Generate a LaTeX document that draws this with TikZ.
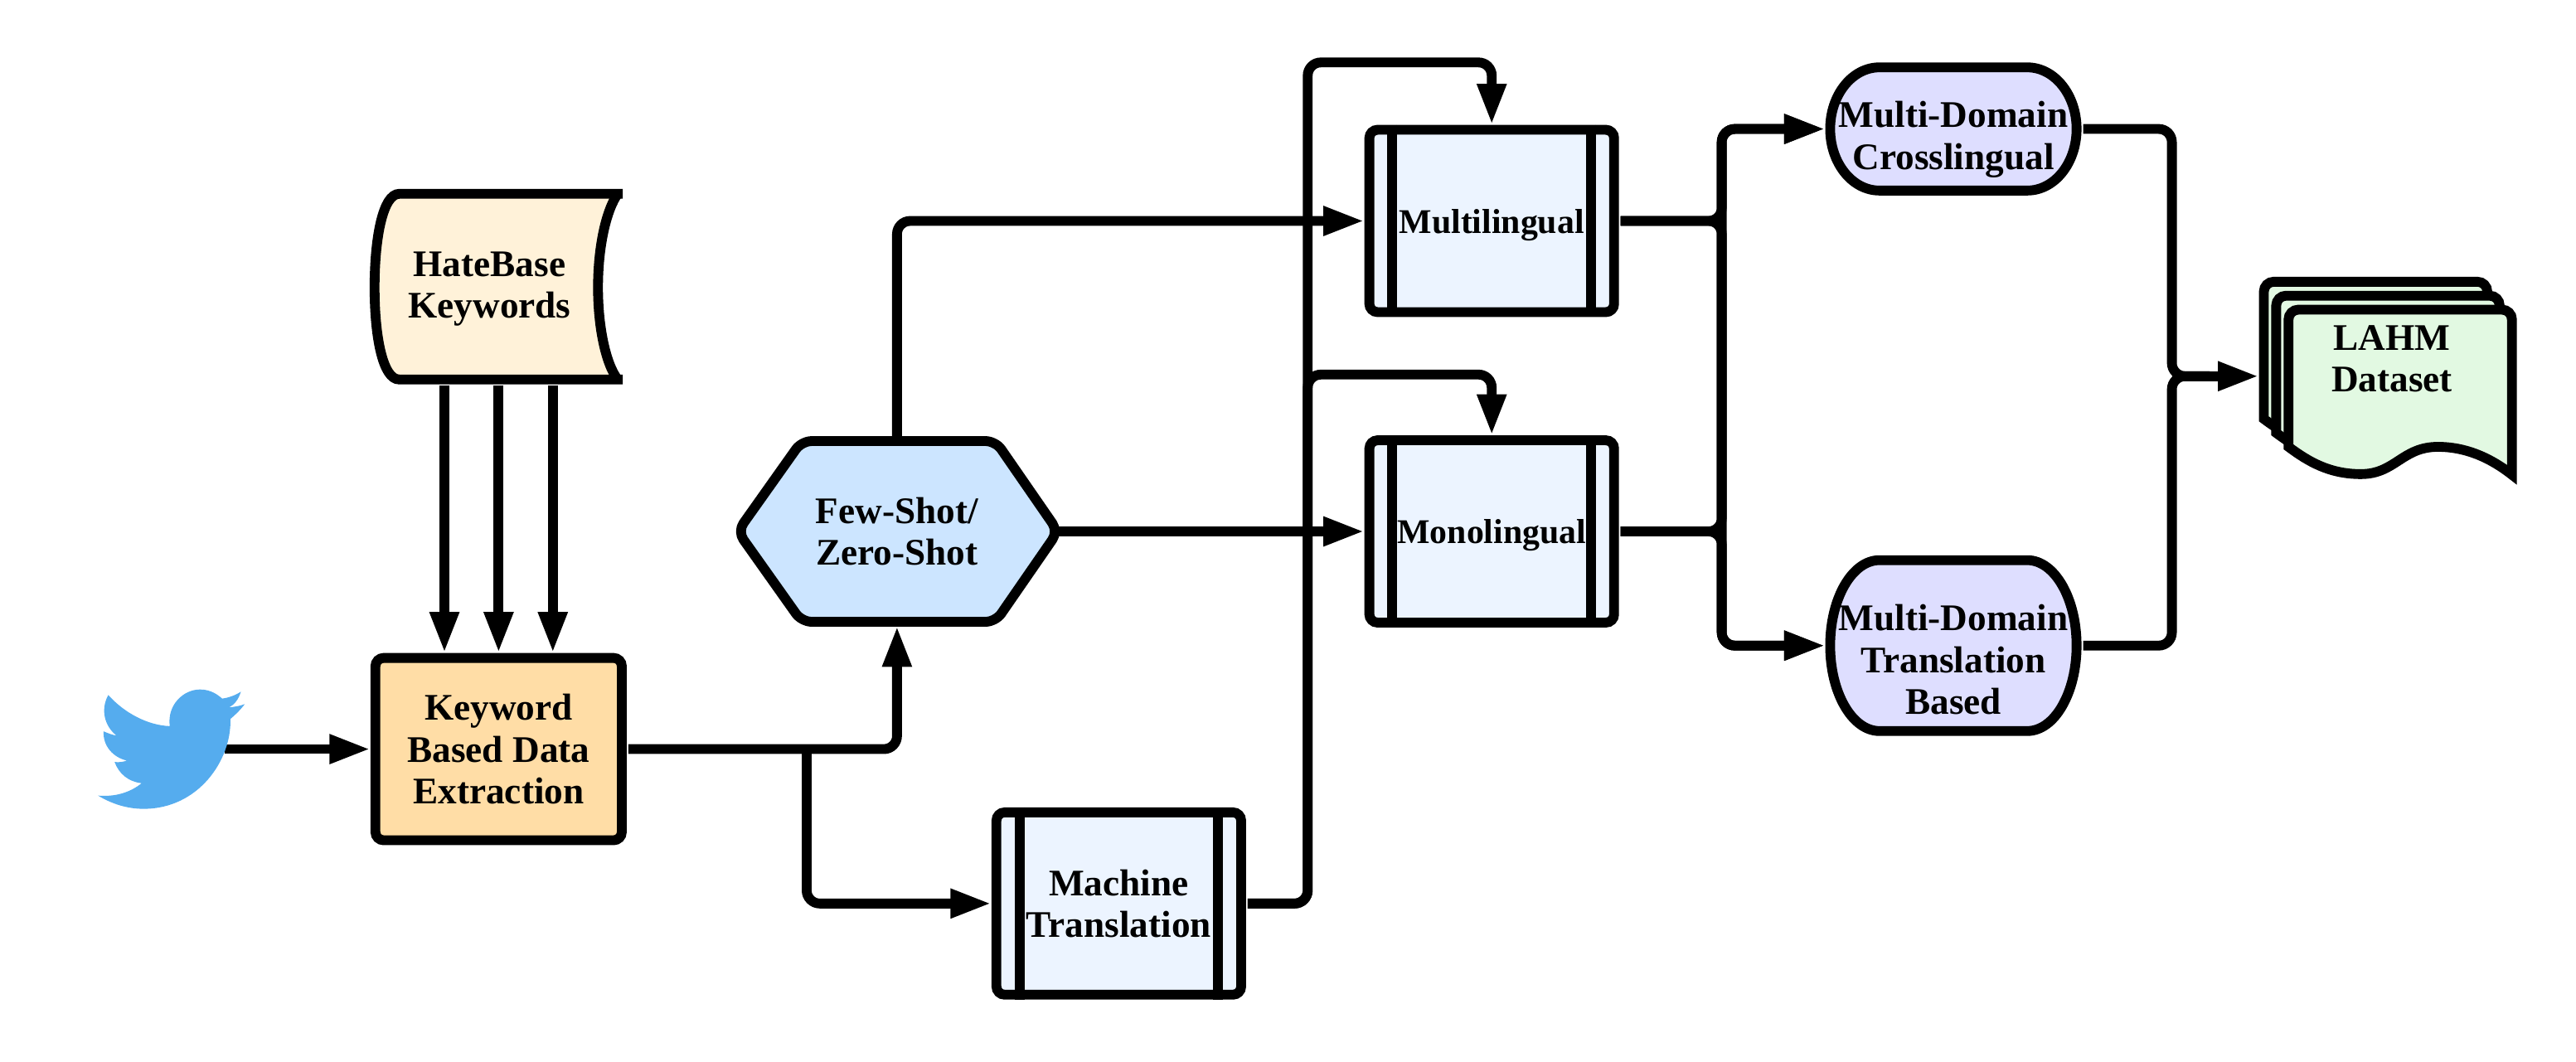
\documentclass[tikz,border=0pt]{standalone}
\usepackage{fontspec}
\setmainfont{Liberation Serif}
\usetikzlibrary{arrows.meta}
\definecolor{tapefill}{HTML}{FFF2D9}
\definecolor{kwfill}{HTML}{FFDDA6}
\definecolor{hexfill}{HTML}{CCE5FF}
\definecolor{procfill}{HTML}{ECF4FF}
\definecolor{termfill}{HTML}{DEDEFF}
\definecolor{docfill}{HTML}{E2F9E2}
\definecolor{birdblue}{HTML}{55ACEE}
\tikzset{
  lw/.style={line width=3.4pt},
  lab/.style={font=\fontsize{13}{14.5}\selectfont\bfseries,align=center,inner sep=0pt},
  labsmall/.style={font=\fontsize{12}{14.5}\selectfont\bfseries,align=center,inner sep=0pt},
  conn/.style={lw,rounded corners=.16cm,-{Triangle[length=.5cm,width=.33cm]}},
  wire/.style={lw,rounded corners=.16cm},
  gap/.style={shorten <=.02cm},
  ghost/.style={lab,outer sep=0pt},
  kwbox/.style={lab,draw,lw,fill=kwfill,rounded corners=.1cm,minimum width=3.0cm,minimum height=2.22cm},
  procbox/.style={labsmall,draw,lw,fill=procfill,rounded corners=.1cm,minimum width=2.98cm,minimum height=2.22cm},
  outline/.style={draw,lw,line join=round},
}
\begin{document}
\begin{tikzpicture}[x=0.02cm,y=-0.02cm]
\useasboundingbox (0,0) rectangle (1568,646.46);

% tape
\fill[tapefill] (379,118) -- (243,118) .. controls (233,118) and (228,145) .. (228,175) .. controls (228,205) and (233,231) .. (243,231) -- (376,231) .. controls (369,222) and (364,200) .. (364,175) .. controls (364,150) and (369,128) .. (376,118) -- cycle;
\draw[lw] (379,118) -- (243,118) .. controls (233,118) and (228,145) .. (228,175) .. controls (228,205) and (233,231) .. (243,231) -- (379,231);
\draw[lw] (376,231) .. controls (369,222) and (364,200) .. (364,175) .. controls (364,150) and (369,128) .. (376,118);
\node[ghost,minimum width=2.94cm,minimum height=2.34cm] (hb) at (298,176) {HateBase\\Keywords};

% keyword box
\node[kwbox] (kw) at (303.5,456) {Keyword\\Based Data\\Extraction};

% hexagon
\draw[outline,fill=hexfill,rounded corners=.12cm] (546,268.5) -- (606,268.5) -- (644,323.5) -- (606,378.5) -- (488,378.5) -- (449,323.5) -- (488,268.5) -- cycle;
\node[ghost,minimum width=3.84cm,minimum height=2.3cm] (hex) at (546,323.5) {Few-Shot/\\Zero-Shot};

% processes
\node[procbox,font=\fontsize{13}{14.5}\selectfont\bfseries] (mt) at (681,550) {Machine\\Translation};
\node[procbox,text depth=0pt] (mult) at (908,134.5) {Multilingual};
\node[procbox,text depth=0pt] (mono) at (908,323.5) {Monolingual};
\foreach \n in {mt,mult,mono}{
  \draw[lw] ([xshift=.34cm]\n.north west) -- ([xshift=.34cm]\n.south west);
  \draw[lw] ([xshift=-.34cm]\n.north east) -- ([xshift=-.34cm]\n.south east);
}

% terminators
\draw[outline,fill=termfill] (1144,41) -- (1234,41) .. controls (1250.6,41) and (1264,57.8) .. (1264,78.5) .. controls (1264,99.2) and (1250.6,116) .. (1234,116) -- (1144,116) .. controls (1127.4,116) and (1114,99.2) .. (1114,78.5) .. controls (1114,57.8) and (1127.4,41) .. (1144,41) -- cycle;
\node[ghost,minimum width=3.12cm] (cross) at (1189,85) {Multi-Domain\\Crosslingual};
\draw[outline,fill=termfill] (1144,341) -- (1234,341) .. controls (1250.6,341) and (1264,364.3) .. (1264,393) .. controls (1264,421.7) and (1250.6,445) .. (1234,445) -- (1144,445) .. controls (1127.4,445) and (1114,421.7) .. (1114,393) .. controls (1114,364.3) and (1127.4,341) .. (1144,341) -- cycle;
\node[ghost,minimum width=3.12cm] (trans) at (1189,401.5) {Multi-Domain\\Translation\\Based};

% document stack
\foreach \dx/\dy in {-15/-17,-7.5/-8.5,0/0}{
  \begin{scope}[shift={(\dx,\dy)}]
    \draw[lw,fill=docfill,miter limit=10] (1393,272) [rounded corners=.12cm] -- (1393,188.5) -- (1529,188.5) [sharp corners] -- (1529,289) .. controls (1515,278) and (1500,272) .. (1484,272) .. controls (1462,272) and (1458,288.6) .. (1437,288.6) .. controls (1418,288.6) and (1405,281) .. (1393,272) -- cycle;
  \end{scope}
}
\node[lab] (ds) at (1456,218.5) {LAHM\\Dataset};

% free points
\coordinate (bird) at (137,456);
\coordinate (split) at (491,456);
\coordinate (trunkA) at (796,38);
\coordinate (trunkB) at (796,228);
\coordinate (busA) at (1048,134.5);
\coordinate (busB) at (1048,323.5);
\coordinate (busOut) at (1322,229);
\coordinate (dsmid) at (1345,229);
\coordinate (dsin) at (1375,229);

% connectors
\foreach \s in {-.66,0,.66}
  \draw[conn] ([xshift=\s cm]kw.north |- hb.south) -- ([xshift=\s cm]kw.north);
\draw[conn] (bird) -- (kw.west);
\draw[conn,gap] (kw.east) -| (hex.south);
\draw[conn] (split) |- (mt.west);
\draw[conn] (hex.north) |- (mult.west);
\draw[conn] (hex.east) -- (mono.west);
\draw[conn,gap] (mt.east) -| (trunkA) -| (mult.north);
\draw[conn,gap] (mt.east) -| (trunkB) -| (mono.north);
\foreach \a in {mult,mono}{
  \draw[conn,gap] (\a.east) -- (\a.east -| busA) |- ([yshift=.13cm]cross.west);
  \draw[conn,gap] (\a.east) -- (\a.east -| busA) |- ([yshift=.17cm]trans.west);
}
\draw[wire,gap] ([yshift=.13cm]cross.east) -| (busOut) -- (dsmid);
\draw[wire,gap] ([yshift=.17cm]trans.east) -| (busOut) -- (dsmid);
\draw[conn] (busOut) -- (dsin);

% twitter bird
\begin{scope}[shift={(50.47,408.8)},x=0.003364cm,y=-0.003364cm]
\fill[birdblue] (92,85) .. controls (150,150) and (235,195) .. (315,198) .. controls (305,120) and (365,65) .. (425,65) .. controls (465,65) and (490,85) .. (505,98) .. controls (530,95) and (555,85) .. (573,73) .. controls (565,100) and (550,120) .. (530,130) .. controls (550,128) and (570,125) .. (587,118) .. controls (575,135) and (555,155) .. (535,172) .. controls (540,320) and (420,498) .. (220,498) .. controls (160,498) and (105,480) .. (55,450) .. controls (115,455) and (170,440) .. (213,405) .. controls (165,400) and (130,370) .. (115,328) .. controls (130,330) and (145,328) .. (160,323) .. controls (110,312) and (72,270) .. (75,217) .. controls (90,223) and (105,230) .. (122,232) .. controls (80,200) and (62,140) .. (92,85) -- cycle;
\end{scope}
\end{tikzpicture}
\end{document}
